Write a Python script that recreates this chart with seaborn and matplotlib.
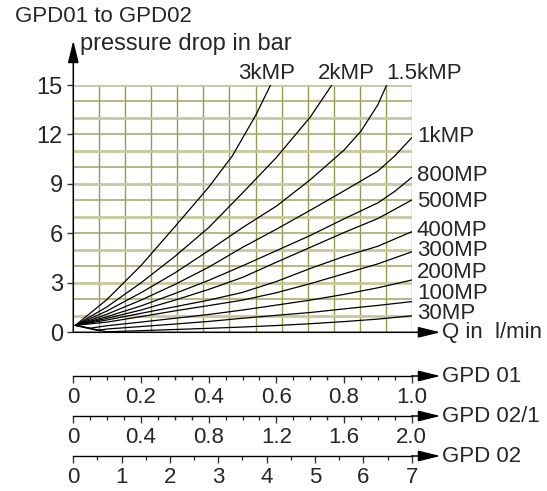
import numpy as np
import pandas as pd
import matplotlib
matplotlib.use("Agg")
import matplotlib.pyplot as plt
import seaborn as sns

# curve data: flow (as fraction of GPD 01 range) vs pressure drop in bar
q_3k = [0.006, 0.1, 0.2, 0.3, 0.4, 0.47, 0.54, 0.583]
dp_3k = [0.42, 2.0, 4.05, 6.4, 8.8, 10.7, 13.2, 15.0]

q_2k = [0.006, 0.1, 0.2, 0.3, 0.4, 0.5, 0.6, 0.7, 0.764]
dp_2k = [0.42, 1.55, 3.0, 4.6, 6.35, 8.45, 10.6, 13.05, 15.0]

q_1k5 = [0.006, 0.1, 0.2, 0.3, 0.4, 0.5, 0.6, 0.7, 0.8, 0.85, 0.9, 0.926]
dp_1k5 = [0.42, 1.3, 2.4, 3.6, 4.95, 6.35, 7.65, 9.25, 11.05, 12.2, 13.8, 15.0]

q_1k = [0.006, 0.1, 0.2, 0.3, 0.4, 0.5, 0.6, 0.7, 0.8, 0.9, 0.95, 1.0]
dp_1k = [0.42, 1.1, 1.95, 2.9, 3.95, 5.15, 6.25, 7.4, 8.58, 9.78, 10.7, 11.8]

q_800 = [0.006, 0.1, 0.2, 0.3, 0.4, 0.5, 0.6, 0.7, 0.8, 0.9, 0.95, 1.0]
dp_800 = [0.42, 0.95, 1.6, 2.35, 3.15, 4.03, 4.95, 5.87, 6.88, 7.85, 8.55, 9.39]

q_500 = [0.006, 0.1, 0.2, 0.3, 0.4, 0.5, 0.6, 0.7, 0.8, 0.9, 1.0]
dp_500 = [0.42, 0.85, 1.35, 1.95, 2.6, 3.33, 4.25, 5.15, 6.05, 6.9, 8.02]

q_400 = [0.006, 0.1, 0.2, 0.3, 0.4, 0.5, 0.6, 0.7, 0.8, 0.9, 1.0]
dp_400 = [0.42, 0.75, 1.15, 1.55, 1.95, 2.42, 3.08, 3.87, 4.6, 5.22, 6.1]

q_300 = [0.006, 0.1, 0.2, 0.3, 0.4, 0.5, 0.6, 0.7, 0.8, 0.9, 1.0]
dp_300 = [0.42, 0.62, 0.95, 1.3, 1.62, 1.95, 2.4, 2.95, 3.55, 4.15, 4.88]

q_200 = [0.006, 0.05, 0.1, 0.2, 0.3, 0.4, 0.5, 0.6, 0.7, 0.8, 0.9, 1.0]
dp_200 = [0.42, 0.25, 0.4, 0.62, 0.85, 1.08, 1.35, 1.65, 1.95, 2.3, 2.7, 3.17]

q_100 = [0.006, 0.07, 0.1, 0.2, 0.3, 0.4, 0.5, 0.6, 0.7, 0.8, 0.9, 1.0]
dp_100 = [0.42, 0.12, 0.2, 0.35, 0.5, 0.66, 0.85, 1.03, 1.2, 1.42, 1.63, 1.86]

q_30 = [0.006, 0.1, 0.2, 0.3, 0.4, 0.5, 0.6, 0.7, 0.8, 0.9, 1.0]
dp_30 = [0.42, 0.03, 0.1, 0.17, 0.24, 0.32, 0.41, 0.52, 0.65, 0.8, 1.0]

curve_names = ["3kMP", "2kMP", "1.5kMP", "1kMP", "800MP", "500MP",
               "400MP", "300MP", "200MP", "100MP", "30MP"]
curve_q = [q_3k, q_2k, q_1k5, q_1k, q_800, q_500, q_400, q_300, q_200, q_100, q_30]
curve_dp = [dp_3k, dp_2k, dp_1k5, dp_1k, dp_800, dp_500, dp_400, dp_300, dp_200, dp_100, dp_30]

# label anchor points (left edge, vertical centre) in data coords
label_x = [0.487, 0.723, 0.926, 1.015, 1.015, 1.015, 1.015, 1.015, 1.015, 1.015, 1.015]
label_y = [15.7, 15.7, 15.7, 11.9, 9.5, 7.95, 6.2, 4.95, 3.65, 2.35, 1.15]

y_ticks = [0, 3, 6, 9, 12, 15]

# the three flow scales under the chart
gpd01_max, gpd01_major, gpd01_minor = 1.0, 0.2, 0.05
gpd021_max, gpd021_major, gpd021_minor = 2.0, 0.4, 0.1
gpd02_max, gpd02_major, gpd02_minor = 7.0, 1.0, 0.5
scale_names = ["GPD 01", "GPD 02/1", "GPD 02"]

rows = []
for name, qs, dps in zip(curve_names, curve_q, curve_dp):
    for q, dp in zip(qs, dps):
        rows.append({"curve": name, "q": q, "dp": dp})
df = pd.DataFrame(rows)

sns.set_theme(style="white")
plt.rcParams["font.family"] = ["Liberation Sans", "DejaVu Sans"]
FS = 16

fig = plt.figure(figsize=(5.47, 4.91), dpi=100)
W, H = 547, 491
left_px, right_px = 73.3, 411.7
top_px, bot_px = 85, 332.3
ax = fig.add_axes([left_px / W, 1 - bot_px / H, (right_px - left_px) / W, (bot_px - top_px) / H])
ax.set_xlim(0, 1)
ax.set_ylim(0, 15)
for s in ax.spines.values():
    s.set_visible(False)

# grid
for k in range(1, 14):
    ax.axvline(k / 13, color="#9a9a4c", lw=1.0, zorder=1)
for v in range(1, 16):
    if v % 2 == 1:
        ax.axhline(v, color="#c8c89c", lw=2.0, zorder=1)
    else:
        ax.axhline(v, color="#a4a462", lw=1.1, zorder=1)

sns.lineplot(data=df, x="q", y="dp", units="curve", estimator=None, sort=False,
             color="black", lw=0.9, ax=ax, zorder=3, legend=False)

for name, lx, ly in zip(curve_names, label_x, label_y):
    ax.text(lx, ly, name, fontsize=FS, ha="left", va="center", clip_on=False)

ax.set_xlabel("")
ax.set_ylabel("")
ax.set_xticks([])
ax.set_yticks(y_ticks)
ax.set_yticklabels([str(t) for t in y_ticks], fontsize=17)
ax.tick_params(axis="y", direction="out", length=4.5, width=1, color="#333333", pad=3, left=True)

arrow = dict(arrowstyle="-|>,head_length=0.9,head_width=0.22", color="black", lw=1.1,
             shrinkA=0, shrinkB=0, mutation_scale=15)
ax.annotate("", xy=(1.085, 0), xytext=(0, 0), arrowprops=arrow, annotation_clip=False, zorder=5)
ax.annotate("", xy=(0, 17.7), xytext=(0, 0), arrowprops=arrow, annotation_clip=False, zorder=5)
ax.text(1.09, 0, "Q in  l/min", fontsize=FS, ha="left", va="center", clip_on=False)
ax.text(0.02, 17.5, "pressure drop in bar", fontsize=17, ha="left", va="center", clip_on=False)
fig.text(15 / W, 1 - 17 / H, "GPD01 to GPD02", fontsize=FS, ha="left", va="center")

# flow scales
scale_specs = [(gpd01_max, gpd01_major, gpd01_minor, "{:.1f}"),
               (gpd021_max, gpd021_major, gpd021_minor, "{:.1f}"),
               (gpd02_max, gpd02_major, gpd02_minor, "{:.0f}")]
scale_line_px = [376, 416, 456]
for (smax, smaj, smin, fmt), name, ypx in zip(scale_specs, scale_names, scale_line_px):
    sax = fig.add_axes([left_px / W, 1 - ypx / H, (right_px - left_px) / W, 0.001])
    sax.set_xlim(0, smax)
    sax.set_ylim(0, 1)
    for s in ["left", "right", "top"]:
        sax.spines[s].set_visible(False)
    sax.spines["bottom"].set_color("black")
    sax.spines["bottom"].set_linewidth(1.0)
    majors = np.arange(0, smax + 1e-9, smaj)
    minors = np.arange(0, smax + 1e-9, smin)
    sax.set_xticks(majors)
    sax.set_xticks(minors, minor=True)
    labels = ["0"] + [fmt.format(m) for m in majors[1:]]
    sax.set_xticklabels(labels, fontsize=FS)
    sax.set_yticks([])
    sax.tick_params(axis="x", which="major", direction="out", length=5, width=1,
                    color="#333333", pad=3, bottom=True, top=False)
    sax.tick_params(axis="x", which="minor", direction="out", length=2.8, width=1,
                    color="#333333", bottom=True, top=False)
    sax.annotate("", xy=(smax * 1.085, 0), xytext=(smax, 0), arrowprops=arrow,
                 annotation_clip=False)
    sax.text(smax * 1.09, 0, name, fontsize=FS, ha="left", va="center", clip_on=False)

fig.savefig("out.png", dpi=100)
